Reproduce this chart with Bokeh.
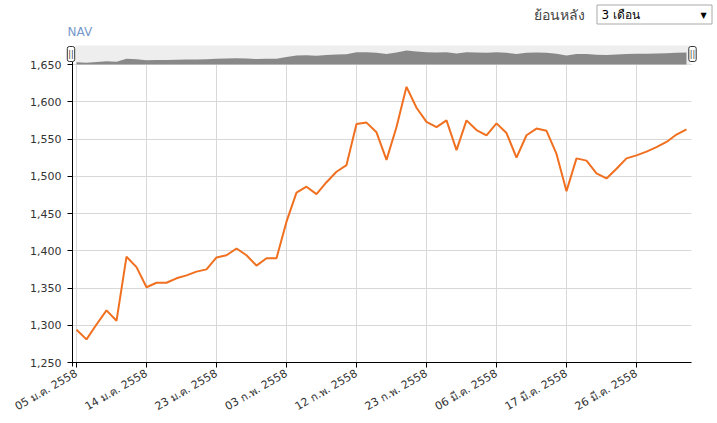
import math
from bokeh.plotting import figure
from bokeh.models import Range1d, FixedTicker, NumeralTickFormatter, Label
from bokeh.embed import file_html
from bokeh.resources import INLINE

# ---------------- data ----------------
series_name = "NAV"
lookback_label = "ย้อนหลัง"
period_label = "3 เดือน"
nav = [1294, 1281, 1301, 1320, 1306, 1392, 1378, 1351, 1357, 1357,
       1363, 1367, 1372, 1375, 1391, 1394, 1403, 1394, 1380, 1390,
       1390, 1439, 1478, 1486, 1476, 1492, 1506, 1515, 1570, 1572,
       1559, 1522, 1566, 1620, 1592, 1573, 1566, 1575, 1535, 1575,
       1562, 1555, 1571, 1558, 1525, 1555, 1564, 1561, 1530, 1480,
       1524, 1521, 1504, 1497, 1510, 1524, 1528, 1533, 1539, 1546,
       1556, 1563]
tick_idx = [0, 7, 14, 21, 28, 35, 42, 49, 56]
tick_labels = ["05 ม.ค. 2558", "14 ม.ค. 2558", "23 ม.ค. 2558", "03 ก.พ. 2558",
               "12 ก.พ. 2558", "23 ก.พ. 2558", "06 มี.ค. 2558", "17 มี.ค. 2558",
               "26 มี.ค. 2558"]
y_ticks = [1250, 1300, 1350, 1400, 1450, 1500, 1550, 1600, 1650]

x = list(range(len(nav)))

# ---------------- layout (page pixel positions) ----------------
W, H = 717, 423
FL, FR, FT, FB = 72, 691, 45, 362      # plot area edges
X0_PX, PX_PER_DAY = 76, 10             # first point position, spacing
Y_LO, Y_HI_TICK, Y_HI_PX = 1250, 1650, 64
ppu = (FB - Y_HI_PX) / (Y_HI_TICK - Y_LO)


def rx(px):
    return (px - X0_PX) / PX_PER_DAY


def ry(py):
    return Y_LO + (FB - py) / ppu


# navigator scale: NAV_LO at bottom of band, NAV_HI at top of band
NAV_LO, NAV_HI = 1230, 1760
upp = (NAV_HI - NAV_LO) / (Y_HI_PX - FT)
nav_start = NAV_LO - (H - Y_HI_PX) * upp
nav_end = NAV_HI + FT * upp

FONT = "DejaVu Sans"

p = figure(width=W, height=H, output_backend="svg", toolbar_location=None,
           x_range=Range1d(rx(0), rx(W)), y_range=Range1d(ry(H), ry(0)),
           min_border=0)
p.title.visible = False
p.extra_y_ranges = {"nav": Range1d(nav_start, nav_end)}
p.outline_line_color = None
p.background_fill_color = "white"
p.border_fill_color = "white"

# navigator
p.quad(left=[rx(75)], right=[rx(690)], bottom=[ry(Y_HI_PX)], top=[ry(FT)],
       fill_color="#eeeeee", line_color=None)
p.varea(x=x, y1=NAV_LO, y2=nav, y_range_name="nav", fill_color="#888888")

# main line
p.line(x, nav, line_color="#f07020", line_width=2)

# axes (fixed at the plot-area edges)
p.xaxis.fixed_location = Y_LO
p.yaxis.fixed_location = rx(FL)
p.xaxis.bounds = (rx(FL), rx(FR))
p.yaxis.bounds = (ry(FB + 4), ry(Y_HI_PX - 3))
p.xaxis.ticker = FixedTicker(ticks=tick_idx)
p.xaxis.major_label_overrides = {i: l for i, l in zip(tick_idx, tick_labels)}
p.xaxis.major_label_orientation = math.pi / 6
p.yaxis.ticker = FixedTicker(ticks=y_ticks)
p.yaxis.formatter = NumeralTickFormatter(format="0,0")
for ax in (p.xaxis, p.yaxis):
    ax.axis_line_color = "black"
    ax.axis_line_width = 1
    ax.major_tick_line_color = "black"
    ax.major_tick_out = 5
    ax.major_tick_in = 0
    ax.minor_tick_line_color = None
    ax.major_label_text_font = FONT
    ax.major_label_text_font_size = "11px"
    ax.major_label_text_color = "#333333"
p.xaxis.major_label_standoff = 5
p.yaxis.major_label_standoff = 6
p.grid.grid_line_color = "#d8d8d8"
p.grid.grid_line_width = 1
p.xgrid.bounds = (rx(FL), rx(FR))
p.xgrid.cross_bounds = (Y_LO, Y_HI_TICK)
p.ygrid.bounds = (Y_LO, Y_HI_TICK)
p.ygrid.cross_bounds = (rx(FL), rx(FR))

# header: series name, look-back selector
p.quad(left=[rx(596.5)], right=[rx(711.5)], bottom=[ry(23.5)], top=[ry(4.5)],
       fill_color="white", line_color="#a9a9a9", line_width=1)
p.add_layout(Label(x=rx(67), y=ry(31), text=series_name, text_baseline="middle",
                   text_font=FONT, text_font_size="12px", text_color="#7799cc"))
p.add_layout(Label(x=rx(533), y=ry(14), text=lookback_label, text_baseline="middle",
                   text_font=FONT, text_font_size="14px", text_color="#444444"))
p.add_layout(Label(x=rx(601), y=ry(14.5), text=period_label, text_baseline="middle",
                   text_font=FONT, text_font_size="12px", text_color="black"))
p.add_layout(Label(x=rx(703), y=ry(14.5), text="▼", text_baseline="middle",
                   text_align="center", text_font=FONT, text_font_size="8px",
                   text_color="black"))
# navigator handles
for hx in (70.5, 692):
    p.add_layout(Label(x=rx(hx), y=ry(53.5), text="||", text_baseline="middle",
                       text_align="center", text_font=FONT, text_font_size="8px",
                       text_color="#333333", background_fill_color="white",
                       border_line_color="#333333", border_radius=2,
                       padding=dict(left=1, right=1, top=3, bottom=3)))

open("out.html", "w").write(file_html(p, INLINE))
